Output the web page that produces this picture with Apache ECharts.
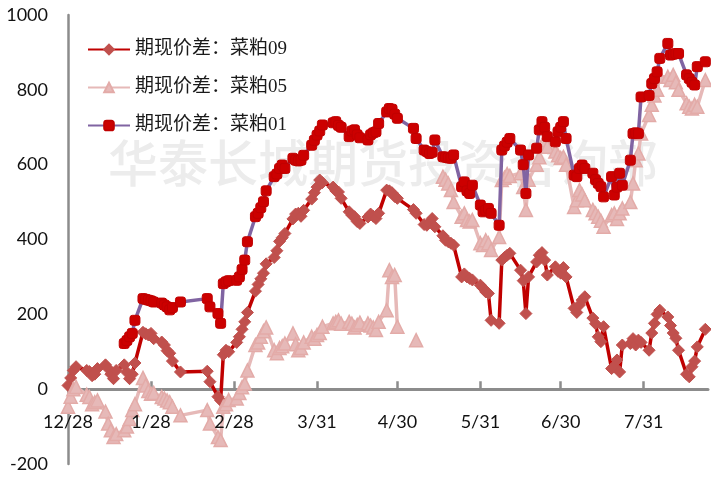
<!DOCTYPE html>
<html>
<head>
<meta charset="utf-8">
<script src="https://cdn.jsdelivr.net/npm/echarts@6/dist/echarts.min.js"></script>
<style>
  html, body { margin: 0; padding: 0; background: #ffffff; }
  #chart { width: 711px; height: 478px; }
</style>
</head>
<body>
<div id="chart"></div>
<script>
// Trading days (MM-DD); December belongs to 2020, the rest to 2021.
const tradeDays = [
  '12-28','12-29','12-30','12-31',
  '01-04','01-05','01-06','01-07','01-08',
  '01-11','01-12','01-13','01-14','01-15',
  '01-18','01-19','01-20','01-21','01-22',
  '01-25','01-26','01-27','01-28','01-29',
  '02-01','02-02','02-03','02-04','02-05',
  '02-08',
  '02-18','02-19',
  '02-22','02-23','02-24','02-25','02-26',
  '03-01','03-02','03-03','03-04','03-05',
  '03-08','03-09','03-10','03-11','03-12',
  '03-15','03-16','03-17','03-18','03-19',
  '03-22','03-23','03-24','03-25','03-26',
  '03-29','03-30','03-31','04-01','04-02',
  '04-06','04-07','04-08','04-09',
  '04-12','04-13','04-14','04-15','04-16',
  '04-19','04-20','04-21','04-22','04-23',
  '04-26','04-27','04-28','04-29','04-30',
  '05-06','05-07',
  '05-10','05-11','05-12','05-13','05-14',
  '05-17','05-18','05-19','05-20','05-21',
  '05-24','05-25','05-26','05-27','05-28',
  '05-31','06-01','06-02','06-03','06-04',
  '06-07','06-08','06-09','06-10','06-11',
  '06-15','06-16','06-17','06-18',
  '06-21','06-22','06-23','06-24','06-25',
  '06-28','06-29','06-30','07-01','07-02',
  '07-05','07-06','07-07','07-08','07-09',
  '07-12','07-13','07-14','07-15','07-16',
  '07-19','07-20','07-21','07-22','07-23',
  '07-26','07-27','07-28','07-29','07-30',
  '08-02','08-03','08-04','08-05','08-06',
  '08-09','08-10','08-11','08-12','08-13',
  '08-16','08-17','08-18','08-19','08-20',
  '08-23'
];

// 期现价差：菜粕09 (one value per trading day, same row layout as tradeDays)
const spread09 = [
  10, 30, 50, 60,
  50, 47, 36, 40, 55,
  65, 55, 40, 28, 50,
  65, 45, 28, 40, 70,
  152, 148, 145, 149, 135,
  126, 118, 103, 96, 75,
  46,
  48, 20,
  -20, -30, 92, 104, 100,
  125, 140, 160, 180, 205,
  262, 280, 295, 310, 335,
  352, 370, 395, 405, 416,
  455, 468, 470, 462, 478,
  508, 525, 540, 559, 552,
  540, 530, 527, 510,
  474, 465, 461, 448, 443,
  460, 468, 462, 456, 470,
  532, 530, 525, 515, 510,
  480, 470,
  440, 438, 445, 456, 434,
  410, 398, 394, 390, 385,
  300, 308, 300, 296, 292,
  278, 270, 260, 256, 184,
  176, 345, 352, 358, 363,
  318, 290, 202, 300,
  340, 358, 365, 345, 305,
  327, 315, 310, 325, 300,
  216, 205, 225, 238, 247,
  190, 175, 140, 127, 167,
  55, 60, 78, 46, 118,
  122, 135, 118, 131, 125,
  104, 150, 176, 200, 211,
  193, 170, 150, 136, 104,
  40, 33, 60, 75, 113,
  160
];

// 期现价差：菜粕05
const spread05 = [
  -47, -20, 0, 6,
  -15, -21, -40, -35, -30,
  -60, -92, -110, -128, -120,
  -110, -100, -80, -56, -40,
  30, 10, -5, -12, -10,
  -21, -25, -30, -35, -47,
  -70,
  -56, -92,
  -128, -136, -47, -40, -29,
  -25, -10, 5, 15, 50,
  118, 125, 140, 155, 165,
  104, 96, 110, 115, 122,
  149, 120, 104, 110, 125,
  140, 135, 145, 150, 167,
  176, 180, 184, 175,
  180, 175, 165, 172, 178,
  176, 170, 165, 158, 180,
  211, 318, 300, 305, 167,
  null, 131,
  null, null, null, null, null,
  568, 560, 550, 532, 500,
  461, 470, 452, 448, 452,
  390, 385, 398, 390, 372,
  407, 559, 565, 575, 570,
  577, 540, 479, 560,
  600, 620, 650, 666, 648,
  635, 625, 618, 621, 600,
  487, 505, 532, 520, 505,
  479, 470, 461, 450, 434,
  465, 470, 455, 470, 483,
  500, 550, 612, 630, 683,
  733, 760, 785, 800, 835,
  835, 826, 840, 820, 800,
  764, 755, 750, 760, 755,
  826
];

// 期现价差：菜粕01
const spread01 = [
  null, null, null, null,
  null, null, null, null, null,
  null, null, null, null, null,
  122, 130, 140, 149, 184,
  242, 240, 238, 236, 233,
  230, 225, 220, 212, 218,
  233,
  242, 220,
  202, 176, 282, 287, 290,
  291, 300, 320, 345, 394,
  461, 470, 485, 501, 530,
  568, 575, 590, 599, 590,
  617, 612, 610, 612, 625,
  652, 665, 679, 690, 706,
  712, 715, 705, 700,
  675, 690, 693, 680, 672,
  666, 680, 685, 688, 710,
  741, 750, 748, 735, 724,
  697, 670,
  639, 635, 630, 633, 666,
  621, 620, 618, 617, 626,
  541, 554, 530, 523, 545,
  492, 474, 478, 483, 470,
  438, 639, 650, 660, 670,
  639, 600, 523, 626,
  644, 693, 715, 700, 675,
  661, 688, 700, 715, 670,
  572, 568, 590, 599, 590,
  577, 560, 550, 541, 514,
  568, 519, 540, 577, 545,
  612, 683, 685, 683, 781,
  785, 817, 830, 848, 884,
  924, 893, 895, 897, 897,
  840, 830, 820, 813, 862,
  875
];

// Date axis tick labels
const tickDates = ['2020-12-28', '2021-01-28', '2021-02-28', '2021-03-31',
                   '2021-04-30', '2021-05-31', '2021-06-30', '2021-07-31'];
const axisStart = '2020-12-28';
const axisEnd = '2021-08-24';

const seriesNames = ['期现价差：菜粕09', '期现价差：菜粕05', '期现价差：菜粕01'];

function toTime(s) { return new Date(s + 'T00:00:00').getTime(); }
function fullDate(md) { return (md.startsWith('12-') ? '2020-' : '2021-') + md; }
function pairs(values) { return tradeDays.map((d, i) => [toTime(fullDate(d)), values[i]]); }
function monthDay(v) { const d = new Date(v); return (d.getMonth() + 1) + '/' + d.getDate(); }

const tickTimes = tickDates.map(toTime);
const numFont = 'Lato, "Open Sans", sans-serif';
const axisGray = '#8c8c8c';

const chart = echarts.init(document.getElementById('chart'), null, { renderer: 'canvas' });

chart.setOption({
  animation: false,
  backgroundColor: '#ffffff',
  grid: { left: 68, right: 3, top: 15, bottom: 14, containLabel: false, outerBoundsMode: 'none' },
  graphic: [{
    type: 'text',
    left: 108,
    top: 138,
    z: -10,
    silent: true,
    style: {
      text: '华泰长城期货投资咨询部',
      font: '500 50px "Noto Sans CJK SC"',
      fill: '#ececec'
    }
  }],
  legend: {
    orient: 'vertical',
    left: 82,
    top: 35,
    itemWidth: 42,
    itemHeight: 12,
    itemGap: 19,
    textStyle: {
      fontFamily: '"Liberation Serif", "Noto Sans CJK SC", serif',
      fontSize: 19,
      color: '#1a1a1a'
    },
    data: seriesNames
  },
  xAxis: [
    {
      // axis line through zero with upward ticks
      type: 'value',
      min: toTime(axisStart),
      max: toTime(axisEnd),
      axisLine: { show: true, onZero: true, lineStyle: { color: axisGray, width: 3 } },
      axisTick: {
        show: true, inside: true, length: 8,
        customValues: tickTimes,
        lineStyle: { color: axisGray, width: 2.5 }
      },
      axisLabel: { show: false },
      splitLine: { show: false }
    },
    {
      // date labels just below the zero line, drawn above the series
      type: 'value',
      position: 'bottom',
      offset: -51,
      z: 10,
      min: toTime(axisStart),
      max: toTime(axisEnd),
      axisLine: { show: false, onZero: false },
      axisTick: { show: false },
      axisLabel: {
        customValues: tickTimes,
        margin: 0,
        verticalAlign: 'top',
        fontFamily: numFont,
        fontSize: 18,
        color: '#111',
        showMinLabel: true,
        showMaxLabel: true,
        formatter: monthDay
      },
      splitLine: { show: false }
    }
  ],
  yAxis: {
    type: 'value',
    min: -200,
    max: 1000,
    interval: 200,
    axisLine: { show: true, lineStyle: { color: axisGray, width: 2.5 } },
    axisTick: { show: false },
    axisLabel: {
      margin: 20, fontFamily: numFont, fontSize: 18, color: '#111',
      formatter: function (v) { return String(v); }
    },
    splitLine: { show: false }
  },
  series: [
    {
      name: seriesNames[0],
      type: 'line',
      data: pairs(spread09),
      showAllSymbol: true,
      symbol: 'diamond',
      symbolSize: 12,
      connectNulls: true,
      lineStyle: { color: '#C00000', width: 3.5 },
      itemStyle: { color: '#C0504D', borderColor: '#C0504D', borderWidth: 1 },
      z: 2
    },
    {
      name: seriesNames[1],
      type: 'line',
      data: pairs(spread05),
      showAllSymbol: true,
      symbol: 'triangle',
      symbolSize: 13,
      connectNulls: false,
      lineStyle: { color: '#E6B9B8', width: 3.5 },
      itemStyle: { color: '#E6B9B8', borderColor: '#E3ABA8', borderWidth: 1.5 },
      z: 3
    },
    {
      name: seriesNames[2],
      type: 'line',
      data: pairs(spread01),
      showAllSymbol: true,
      symbol: 'roundRect',
      symbolSize: 10,
      connectNulls: true,
      lineStyle: { color: '#8064A2', width: 3.5 },
      itemStyle: { color: '#CC0000', borderColor: '#C00000', borderWidth: 1 },
      z: 4
    }
  ]
});
</script>
</body>
</html>
